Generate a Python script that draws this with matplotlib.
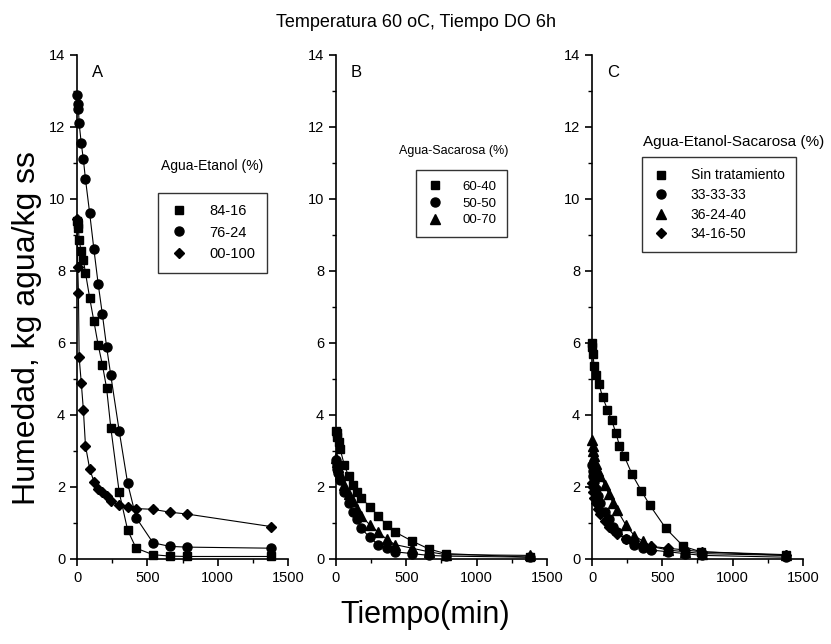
import matplotlib
matplotlib.use("Agg")
import matplotlib.pyplot as plt
from matplotlib.ticker import MultipleLocator

plt.rcParams['font.family'] = ['Liberation Sans', 'DejaVu Sans']

# Panel A: Agua-Etanol (%)
A_t = [0, 5, 10, 15, 30, 45, 60, 90, 120, 150, 180, 210, 240, 300, 360, 420, 540, 660, 780, 1380]
A_84_16 = [9.4, 9.3, 9.2, 8.85, 8.55, 8.3, 7.95, 7.25, 6.6, 5.95, 5.4, 4.75, 3.65, 1.85, 0.8, 0.3, 0.12, 0.08, 0.07, 0.07]
A_76_24 = [12.9, 12.65, 12.5, 12.1, 11.55, 11.1, 10.55, 9.6, 8.6, 7.65, 6.8, 5.9, 5.1, 3.55, 2.1, 1.15, 0.45, 0.35, 0.33, 0.3]
A_00_100 = [9.45, 8.1, 7.4, 5.6, 4.9, 4.15, 3.15, 2.5, 2.15, 1.95, 1.85, 1.75, 1.6, 1.5, 1.45, 1.4, 1.38, 1.3, 1.25, 0.9]

# Panel B: Agua-Sacarosa (%)
B_t_6040 = [0, 5, 10, 20, 30, 60, 90, 120, 150, 180, 240, 300, 360, 420, 540, 660, 780, 1380]
B_60_40 = [3.55, 3.5, 3.4, 3.25, 3.05, 2.6, 2.3, 2.05, 1.85, 1.7, 1.45, 1.2, 0.95, 0.75, 0.5, 0.28, 0.15, 0.05]
B_t_5050 = [0, 5, 10, 15, 30, 60, 90, 120, 150, 180, 240, 300, 360, 420, 540, 660, 780, 1380]
B_50_50 = [2.75, 2.65, 2.5, 2.4, 2.2, 1.85, 1.55, 1.3, 1.1, 0.85, 0.6, 0.4, 0.3, 0.2, 0.15, 0.1, 0.08, 0.05]
B_t_0070 = [0, 5, 15, 30, 60, 90, 120, 150, 180, 240, 300, 360, 420, 540, 660, 780, 1380]
B_00_70 = [2.8, 2.7, 2.55, 2.35, 2.05, 1.8, 1.6, 1.4, 1.2, 0.95, 0.75, 0.55, 0.4, 0.3, 0.2, 0.12, 0.1]

# Panel C: Agua-Etanol-Sacarosa (%)
C_t_sin = [0, 3, 7, 15, 30, 50, 75, 110, 140, 170, 195, 230, 285, 350, 410, 525, 650, 775, 1380]
C_sin = [6.0, 5.9, 5.7, 5.35, 5.1, 4.85, 4.5, 4.15, 3.85, 3.5, 3.15, 2.85, 2.35, 1.9, 1.5, 0.85, 0.35, 0.2, 0.1]
C_t = [0, 5, 10, 15, 30, 45, 60, 90, 120, 150, 180, 240, 300, 360, 420, 540, 660, 780, 1380]
C_33_33_33 = [2.6, 2.45, 2.3, 2.15, 1.95, 1.75, 1.55, 1.3, 1.1, 0.9, 0.75, 0.55, 0.4, 0.3, 0.25, 0.2, 0.15, 0.1, 0.05]
C_36_24_40 = [3.3, 3.15, 3.0, 2.85, 2.65, 2.45, 2.3, 2.05, 1.8, 1.55, 1.35, 0.95, 0.65, 0.5, 0.35, 0.25, 0.2, 0.15, 0.1]
C_34_16_50 = [2.1, 2.0, 1.85, 1.7, 1.55, 1.4, 1.25, 1.05, 0.9, 0.8, 0.7, 0.55, 0.45, 0.4, 0.35, 0.3, 0.25, 0.2, 0.12]

panels = [
    ('A', 'Agua-Etanol (%)', [
        (A_t, A_84_16, 's', '84-16'),
        (A_t, A_76_24, 'o', '76-24'),
        (A_t, A_00_100, 'D', '00-100'),
    ]),
    ('B', 'Agua-Sacarosa (%)', [
        (B_t_6040, B_60_40, 's', '60-40'),
        (B_t_5050, B_50_50, 'o', '50-50'),
        (B_t_0070, B_00_70, '^', '00-70'),
    ]),
    ('C', 'Agua-Etanol-Sacarosa (%)', [
        (C_t_sin, C_sin, 's', 'Sin tratamiento'),
        (C_t, C_33_33_33, 'o', '33-33-33'),
        (C_t, C_36_24_40, '^', '36-24-40'),
        (C_t, C_34_16_50, 'D', '34-16-50'),
    ]),
]

msize = {'s': 5.5, 'o': 6.5, 'D': 5.5, '^': 7}

# per-panel legend settings (axes fraction positions)
leg_title_pos = [(0.64, 0.78), (0.56, 0.81), (0.67, 0.828)]
leg_title_fs = [10, 9, 11]
leg_anchor = [(0.385, 0.727), (0.38, 0.772), (0.237, 0.797)]
leg_fs = [10.5, 9.5, 10]
leg_spacing = [0.5, 0.35, 0.4]

fig = plt.figure(figsize=(8.31, 6.44), dpi=100)
lefts = [0.0927, 0.4043, 0.7124]

for i, ((letter, ltitle, series), left) in enumerate(zip(panels, lefts)):
    ax = fig.add_axes([left, 0.132, 0.2539, 0.7826])
    handles = []
    for t, y, m, lab in series:
        ax.plot(t, y, '-k', lw=0.8, clip_on=False)
        h, = ax.plot(t, y, m, color='k', ms=msize[m], ls='none', clip_on=False, label=lab)
        handles.append(h)
    ax.set_xlim(0, 1500)
    ax.set_ylim(0, 14)
    ax.spines['top'].set_visible(False)
    ax.spines['right'].set_visible(False)
    ax.spines['left'].set_linewidth(1.2)
    ax.spines['bottom'].set_linewidth(1.2)
    ax.xaxis.set_major_locator(MultipleLocator(500))
    ax.xaxis.set_minor_locator(MultipleLocator(250))
    ax.yaxis.set_major_locator(MultipleLocator(2))
    ax.yaxis.set_minor_locator(MultipleLocator(1))
    ax.tick_params(which='major', direction='out', length=5, width=1.2, labelsize=10.5)
    ax.tick_params(which='minor', direction='out', length=3, width=1)
    ax.text(0.07, 0.965, letter, transform=ax.transAxes, fontsize=12, va='center')
    ax.text(leg_title_pos[i][0], leg_title_pos[i][1], ltitle, transform=ax.transAxes,
            fontsize=leg_title_fs[i], ha='center', va='center')
    leg = ax.legend(handles=handles, loc='upper left', bbox_to_anchor=leg_anchor[i],
                    fontsize=leg_fs[i], frameon=True, fancybox=False, edgecolor='k',
                    handlelength=1.2, handletextpad=1.5, labelspacing=leg_spacing[i],
                    borderpad=0.8, borderaxespad=0)
    leg.get_frame().set_linewidth(1.0)

fig.text(0.5, 0.965, 'Temperatura 60 oC, Tiempo DO 6h', ha='center', va='center', fontsize=13)
fig.text(0.033, 0.49, 'Humedad, kg agua/kg ss', rotation=90, ha='center', va='center', fontsize=23)
fig.text(0.512, 0.045, 'Tiempo(min)', ha='center', va='center', fontsize=22)

fig.savefig('out.png', dpi=100)
